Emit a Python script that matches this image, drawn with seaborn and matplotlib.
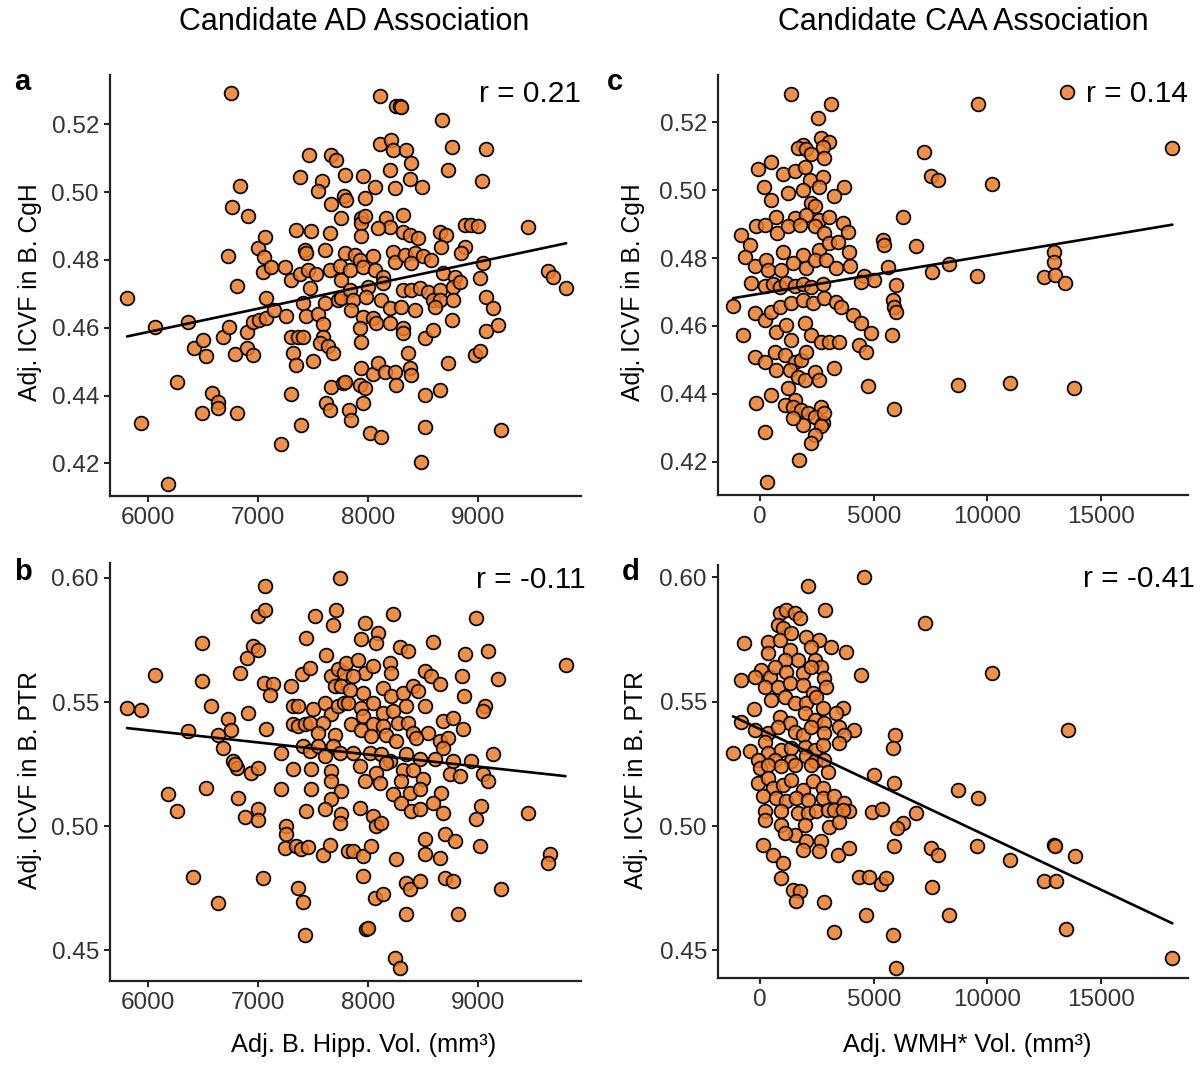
import matplotlib
matplotlib.use("Agg")
import matplotlib.pyplot as plt
import seaborn as sns
import numpy as np
import pandas as pd

# ---------------- data ----------------
# Panel a: Adj. B. Hipp. Vol. vs Adj. ICVF in B. CgH
points_a = [
    (6755,0.5291),(5810,0.4687),(6060,0.4603),(6362,0.4616),(5940,0.4318),(6187,0.4138),(6263,0.4441),
    (6423,0.4541),(6504,0.4564),(6525,0.4518),(6489,0.4350),(6580,0.4407),(6640,0.4382),(6640,0.4362),
    (6812,0.4348),(6685,0.4574),(6736,0.4603),(6790,0.4522),(6897,0.4587),(6897,0.4541),(6957,0.4520),
    (6957,0.4616),(7009,0.4623),(7078,0.4628),(7078,0.4687),(7148,0.4651),(6725,0.4812),(6806,0.4723),
    (6836,0.5018),(6767,0.4957),(6912,0.4928),(6997,0.4834),(7069,0.4867),(7057,0.4808),(7048,0.4765),
    (7124,0.4778),(7244,0.4778),(7305,0.4741),(7260,0.4635),(7299,0.4574),(7320,0.4525),(7350,0.4490),
    (7299,0.4405),(7208,0.4256),(7395,0.4313),(7501,0.4502),(7350,0.4888),(7486,0.4886),(7380,0.5044),
    (7465,0.5110),(7580,0.5033),(7546,0.5004),(7667,0.5110),(7713,0.5095),(7667,0.4965),(7794,0.5051),
    (7788,0.4989),(7758,0.4923),(7652,0.4879),(7607,0.4829),(7425,0.4829),(7440,0.4820),(7383,0.4759),
    (7455,0.4770),(7531,0.4759),(7477,0.4716),(7410,0.4672),(7440,0.4636),(7546,0.4641),(7592,0.4610),
    (7607,0.4672),(7728,0.4682),(7758,0.4687),(7652,0.4770),(7758,0.4741),(7752,0.4782),(7365,0.4574),
    (7410,0.4574),(7592,0.4574),(7562,0.4554),(7637,0.4545),(7683,0.4525),(7667,0.4426),(7773,0.4438),
    (7622,0.4377),(7661,0.4358),(7833,0.4358),(7848,0.4328),
    (8109,0.5284),(8260,0.5254),(8290,0.5254),(8306,0.5252),(8678,0.5213),(8115,0.5142),(8215,0.5154),
    (8230,0.5124),(8351,0.5124),(8396,0.5085),(8769,0.5134),(9072,0.5126),(8730,0.5065),(9042,0.5033),
    (8206,0.5065),(8381,0.5038),(8496,0.5016),(8245,0.5011),(8063,0.5016),(7957,0.5048),(7806,0.4977),
    (7972,0.4982),(8321,0.4933),(8169,0.4923),(8200,0.4898),(7942,0.4923),(7942,0.4908),(7972,0.4928),
    (8093,0.4893),(8321,0.4883),(8381,0.4874),(8457,0.4864),(7942,0.4869),(8654,0.4883),(8709,0.4874),
    (8669,0.4839),(8881,0.4903),(8942,0.4903),(9002,0.4900),(9457,0.4898),(8881,0.4839),(8851,0.4820),
    (7790,0.4820),(7881,0.4815),(7927,0.4800),(8048,0.4810),(8230,0.4822),(8245,0.4795),(8336,0.4815),
    (8427,0.4820),(8503,0.4810),(8578,0.4800),(7836,0.4770),(7957,0.4780),(8063,0.4770),(8139,0.4751),
    (8396,0.4790),(8684,0.4761),(8790,0.4751),(9048,0.4792),(9017,0.4746),(9639,0.4766),(9684,0.4751),
    (9805,0.4716),(7836,0.4711),(8003,0.4721),(8139,0.4731),(8321,0.4711),(8396,0.4711),(8472,0.4716),
    (8548,0.4706),(8654,0.4711),(8775,0.4721),(8836,0.4736),(7866,0.4682),(7987,0.4692),(8124,0.4682),
    (8593,0.4682),(8654,0.4682),(8775,0.4682),(9078,0.4692),(9139,0.4657),(7851,0.4652),(7957,0.4633),
    (8048,0.4628),(8200,0.4657),(8306,0.4662),(8427,0.4652),(8609,0.4662),(7927,0.4598),(8078,0.4613),
    (8200,0.4613),(8321,0.4598),(8321,0.4584),(8518,0.4569),(8593,0.4593),(8769,0.4623),(9078,0.4589),
    (9184,0.4608),(7942,0.4559),(8366,0.4525),(8972,0.4520),(9017,0.4530),(8730,0.4497),(7942,0.4480),
    (8048,0.4465),(8093,0.4495),(8154,0.4470),(8245,0.4470),(8381,0.4480),(8396,0.4460),(7790,0.4441),
    (7927,0.4431),(7972,0.4421),(8260,0.4431),(8518,0.4402),(8654,0.4416),(7957,0.4377),(8018,0.4289),
    (8124,0.4277),(8518,0.4306),(9215,0.4299),(8487,0.4205),
]

# Panel b: Adj. B. Hipp. Vol. vs Adj. ICVF in B. PTR
points_b = [
    (5810,0.5477),(5940,0.5466),(6060,0.5607),(6362,0.5383),(6489,0.5736),(6489,0.5584),(6574,0.5483),
    (6640,0.5369),(6731,0.5430),(6755,0.5387),(6685,0.5316),(6776,0.5262),(6806,0.5235),(6791,0.5249),
    (6912,0.5454),(6836,0.5618),(6897,0.5678),(6957,0.5725),(7003,0.5711),(6997,0.5846),(7063,0.5872),
    (7069,0.5969),(7057,0.5577),(7139,0.5571),(7109,0.5530),(7078,0.5392),(6942,0.5215),(7003,0.5235),
    (6187,0.5128),(6263,0.5061),(6528,0.5155),(6815,0.5112),(6882,0.5036),(6997,0.5070),(6997,0.5024),
    (7208,0.5151),(7260,0.5000),(7260,0.4967),(7244,0.4913),(7350,0.4920),(7395,0.4906),(7455,0.4917),
    (7592,0.4883),(7652,0.4922),(7818,0.4900),(6414,0.4796),(6634,0.4692),(7048,0.4792),(7365,0.4752),
    (7410,0.4696),(7432,0.4561),(7305,0.5564),(7320,0.5483),(7365,0.5483),(7320,0.5410),(7365,0.5403),
    (7426,0.5410),(7471,0.5416),(7401,0.5611),(7477,0.5638),(7440,0.5758),(7516,0.5848),(7713,0.5870),
    (7683,0.5812),(7752,0.6000),(7622,0.5691),(7501,0.5470),(7607,0.5497),(7667,0.5450),(7728,0.5483),
    (7788,0.5497),(7592,0.5416),(7546,0.5376),(7698,0.5369),(7667,0.5604),(7728,0.5631),(7788,0.5618),
    (7698,0.5564),(7758,0.5564),(7410,0.5322),(7471,0.5302),(7546,0.5322),(7607,0.5282),(7683,0.5322),
    (7214,0.5293),(7320,0.5232),(7486,0.5232),(7486,0.5148),(7667,0.5222),(7667,0.5181),(7758,0.5141),
    (7667,0.5108),(7607,0.5067),(7758,0.5047),(7743,0.5014),(7440,0.5061),
    (8230,0.5856),(8981,0.5839),(7972,0.5819),(8093,0.5779),(8078,0.5738),(7942,0.5752),(8593,0.5741),
    (8290,0.5722),(8366,0.5705),(8881,0.5694),(9093,0.5705),(9799,0.5651),(7806,0.5658),(7912,0.5671),
    (7972,0.5618),(8048,0.5644),(8200,0.5658),(8215,0.5618),(7866,0.5604),(8518,0.5624),(8578,0.5604),
    (8654,0.5571),(8860,0.5604),(9184,0.5591),(7836,0.5550),(7957,0.5537),(8139,0.5557),(8215,0.5524),
    (8321,0.5537),(8412,0.5564),(8457,0.5544),(8872,0.5526),(9063,0.5483),(9048,0.5463),(7821,0.5497),
    (7942,0.5477),(8048,0.5497),(8139,0.5457),(8230,0.5463),(8351,0.5483),(8518,0.5483),(7957,0.5443),
    (7851,0.5410),(7942,0.5389),(8048,0.5410),(8139,0.5403),(8275,0.5416),(8366,0.5416),(8412,0.5376),
    (8548,0.5376),(8684,0.5423),(8775,0.5436),(8866,0.5392),(8033,0.5362),(8169,0.5369),(8260,0.5342),
    (8442,0.5356),(8654,0.5342),(8730,0.5356),(8684,0.5316),(9139,0.5289),(7745,0.5296),(7866,0.5296),
    (8018,0.5296),(8124,0.5289),(8200,0.5262),(8351,0.5289),(8472,0.5269),(8609,0.5269),(8775,0.5262),
    (8942,0.5262),(7927,0.5242),(8078,0.5215),(8169,0.5255),(8321,0.5228),(8412,0.5228),(8503,0.5188),
    (8306,0.5181),(8745,0.5208),(8836,0.5201),(9048,0.5208),(9093,0.5181),(7972,0.5181),(8109,0.5175),
    (8230,0.5128),(8306,0.5094),(8381,0.5134),(8472,0.5148),(8669,0.5134),(8593,0.5094),(8684,0.5054),
    (8396,0.5061),(8472,0.5067),(9033,0.5081),(8987,0.5027),(9457,0.5054),(7927,0.5074),(8048,0.5040),
    (8078,0.5000),(8124,0.5014),(8518,0.4947),(8518,0.4886),(8699,0.4967),(8790,0.4940),(8654,0.4873),
    (9017,0.4920),(7866,0.4900),(7957,0.4879),(8033,0.4920),(8260,0.4866),(9654,0.4886),(9639,0.4853),
    (7957,0.4799),(8351,0.4772),(8381,0.4745),(8472,0.4779),(8699,0.4792),(8775,0.4779),(9215,0.4745),
    (8063,0.4712),(8139,0.4725),(8351,0.4645),(8821,0.4645),(7987,0.4584),(8003,0.4591),(8245,0.4470),
    (8290,0.4430),
]

# Panel c: Adj. WMH* Vol. vs Adj. ICVF in B. CgH
points_c = [
    (1334,0.5283),(3123,0.5253),(2536,0.5212),(2683,0.5153),(3049,0.5143),(1876,0.5133),(1657,0.5123),
    (2023,0.5120),(2756,0.5128),(2243,0.5107),(2830,0.5094),(454,0.5084),(-103,0.5063),(997,0.5048),
    (1510,0.5055),(1950,0.5069),(2170,0.5030),(2756,0.5040),(161,0.5010),(1217,0.4991),(1876,0.5001),
    (2609,0.5010),(3709,0.5008),(3269,0.4983),(484,0.4971),(2243,0.4961),(2390,0.4952),(704,0.4922),
    (1510,0.4917),(2023,0.4927),(2609,0.4912),(3049,0.4922),(-836,0.4868),(-469,0.4839),(-176,0.4893),
    (191,0.4898),(748,0.4873),(1217,0.4893),(1730,0.4898),(2390,0.4893),(2830,0.4873),(3636,0.4902),
    (3856,0.4878),(-689,0.4804),(-249,0.4775),(264,0.4794),(997,0.4819),(1876,0.4809),(2609,0.4824),
    (3049,0.4844),(3416,0.4848),(3929,0.4819),(337,0.4765),(924,0.4765),(1437,0.4785),(2023,0.4770),
    (2390,0.4794),(2903,0.4794),(3343,0.4770),(3973,0.4777),(4589,0.4747),(5028,0.4735),
    (-396,0.4725),(191,0.4718),(557,0.4722),(850,0.4715),(1143,0.4725),(1510,0.4718),(1876,0.4722),
    (2243,0.4715),(2756,0.4722),(4442,0.4730),
    (-1202,0.4659),(-249,0.4637),(191,0.4617),(484,0.4642),(850,0.4657),(1363,0.4667),(1876,0.4676),
    (2316,0.4667),(2830,0.4681),(3343,0.4671),(3563,0.4657),(4075,0.4632),(4442,0.4608),(4882,0.4578),
    (-762,0.4573),(-249,0.4509),(191,0.4495),(630,0.4524),(1070,0.4514),(1510,0.4495),(1803,0.4500),
    (2023,0.4524),(704,0.4583),(1143,0.4603),(1363,0.4559),(1950,0.4608),(2243,0.4573),(2683,0.4554),
    (3049,0.4554),(3489,0.4554),(4369,0.4544),(4662,0.4524),(704,0.4470),(1290,0.4470),(1657,0.4450),
    (1950,0.4441),(2390,0.4465),(2609,0.4441),(3240,0.4475),(4764,0.4422),(1217,0.4417),(1510,0.4382),
    (1070,0.4367),(-176,0.4372),(484,0.4397),(1437,0.4362),(1803,0.4353),(2096,0.4343),(2683,0.4362),
    (2390,0.4333),(2756,0.4314),(2830,0.4343),(2683,0.4304),(2390,0.4279),(2243,0.4256),(1876,0.4308),
    (1437,0.4328),(191,0.4287),(1700,0.4206),(308,0.4140),
    (13509,0.5290),(9605,0.5253),(18158,0.5123),(7222,0.5111),(7515,0.5042),(7836,0.5030),(10219,0.5018),
    (6272,0.4922),(5395,0.4853),(5468,0.4839),(6857,0.4836),(5614,0.4773),(7558,0.4760),(8319,0.4782),
    (9561,0.4747),(12924,0.4819),(12924,0.4787),(12485,0.4743),(12997,0.4750),(13436,0.4726),(5980,0.4721),
    (5833,0.4677),(5907,0.4657),(5980,0.4642),(5790,0.4573),(8728,0.4426),(10994,0.4433),(13830,0.4418),
    (5877,0.4355),
]

# Panel d: Adj. WMH* Vol. vs Adj. ICVF in B. PTR
points_d = [
    (4559,0.6000),(2096,0.5965),(2859,0.5869),(850,0.5855),(1143,0.5871),(1510,0.5855),(1730,0.5835),
    (777,0.5808),(997,0.5795),(-718,0.5735),(337,0.5742),(850,0.5748),(1363,0.5775),(2023,0.5762),
    (2609,0.5748),(2243,0.5721),(3123,0.5719),(3783,0.5701),(337,0.5695),(1290,0.5708),(1657,0.5668),
    (1070,0.5668),(2390,0.5668),(2683,0.5641),(44,0.5628),(-249,0.5601),(411,0.5601),(630,0.5641),
    (1143,0.5621),(1876,0.5614),(2243,0.5641),(2830,0.5594),(-836,0.5588),(4442,0.5608),(191,0.5561),
    (777,0.5561),(1290,0.5574),(1876,0.5567),(2316,0.5534),(2903,0.5561),(484,0.5507),(1070,0.5521),
    (1510,0.5494),(2023,0.5494),(2463,0.5521),(2756,0.5474),(3636,0.5474),(-279,0.5470),(-836,0.5420),
    (850,0.5440),(1290,0.5413),(1950,0.5454),(2390,0.5427),(2830,0.5413),(3343,0.5454),(4149,0.5387),
    (-249,0.5387),(337,0.5373),(777,0.5400),(1510,0.5380),(1876,0.5367),(2243,0.5400),(2830,0.5373),
    (3489,0.5400),(3709,0.5367),(-1202,0.5293),(-469,0.5300),(191,0.5340),(337,0.5293),(924,0.5306),
    (1363,0.5313),(1950,0.5320),(2390,0.5306),(2756,0.5326),(3489,0.5333),(-103,0.5266),(630,0.5266),
    (1363,0.5260),(2023,0.5280),(2390,0.5260),(2830,0.5266),
    (-29,0.5233),(337,0.5246),(924,0.5240),(1510,0.5246),(2243,0.5246),(2976,0.5219),(5028,0.5206),
    (-103,0.5172),(337,0.5193),(557,0.5153),(997,0.5166),(1363,0.5186),(1876,0.5146),(2316,0.5180),
    (2756,0.5153),(117,0.5119),(704,0.5113),(1143,0.5099),(1583,0.5113),(2096,0.5106),(2756,0.5113),
    (3269,0.5119),(3709,0.5092),(3929,0.5059),(191,0.5059),(191,0.5025),(924,0.5059),(1657,0.5052),
    (2096,0.5052),(2463,0.5059),(2976,0.5066),(3269,0.5066),(3636,0.5066),(924,0.5005),(1510,0.4965),
    (1950,0.5005),(1070,0.4972),(2023,0.4938),(3049,0.4998),(3489,0.5018),(4911,0.5055),(5365,0.5069),
    (117,0.4925),(557,0.4885),(997,0.4851),(924,0.4791),(1437,0.4744),(1730,0.4737),(1583,0.4697),
    (1876,0.4905),(2683,0.4941),(2609,0.4898),(3416,0.4882),(3929,0.4911),(4369,0.4797),(4809,0.4797),
    (5321,0.4767),(5541,0.4791),(2800,0.4694),(4662,0.4641),(3269,0.4575),
    (7266,0.5815),(10219,0.5614),(13538,0.5387),(5936,0.5367),(5833,0.5313),(5906,0.5173),(8728,0.5146),
    (9591,0.5112),(6857,0.5052),(6272,0.5012),(6024,0.4992),(5906,0.4921),(7515,0.4911),(7836,0.4885),
    (9561,0.4921),(10994,0.4865),(12924,0.4925),(12997,0.4918),(13845,0.4878),(7588,0.4755),(12485,0.4778),
    (13026,0.4778),(8319,0.4644),(5863,0.4563),(13465,0.4586),(5980,0.4429),(18158,0.4470),
]

r_labels = ["r = 0.21", "r = -0.11", "r = 0.14", "r = -0.41"]
panel_letters = ["a", "b", "c", "d"]
column_titles = ["Candidate AD Association", "Candidate CAA Association"]
y_labels = ["Adj. ICVF in B. CgH", "Adj. ICVF in B. PTR"]
x_labels = ["Adj. B. Hipp. Vol. (mm³)", "Adj. WMH* Vol. (mm³)"]
hipp_ticks = [6000, 7000, 8000, 9000]
wmh_ticks = [0, 5000, 10000, 15000]
cgh_ticks = [0.42, 0.44, 0.46, 0.48, 0.50, 0.52]
ptr_ticks = [0.45, 0.50, 0.55, 0.60]

# ---------------- style ----------------
sns.set_style("ticks")
plt.rcParams["font.family"] = ["Liberation Sans", "DejaVu Sans"]
plt.rcParams["text.color"] = "black"

W, H = 1204, 1074
fig = plt.figure(figsize=(W / 100, H / 100), dpi=100)

def fx(px):
    return px / W

def fy(py):
    return 1 - py / H

face = (0.925, 0.49, 0.16, 0.85)
axis_col = "#222222"
tick_col = "#333333"

panels = [
    dict(pts=points_a, box=(110, 75, 581, 496), xlim=(5655, 9940), ylim=(0.4104, 0.5345),
         xt=hipp_ticks, yt=cgh_ticks, r=r_labels[0], rx=1.0, ry=0.955),
    dict(pts=points_b, box=(110, 563, 581, 981), xlim=(5655, 9940), ylim=(0.4376, 0.6060),
         xt=hipp_ticks, yt=ptr_ticks, r=r_labels[1], rx=1.01, ry=0.96),
    dict(pts=points_c, box=(718, 75, 1188, 495), xlim=(-1862, 18845), ylim=(0.4102, 0.5339),
         xt=wmh_ticks, yt=cgh_ticks, r=r_labels[2], rx=1.0, ry=0.955),
    dict(pts=points_d, box=(718, 565, 1188, 978), xlim=(-1862, 18845), ylim=(0.4389, 0.6050),
         xt=wmh_ticks, yt=ptr_ticks, r=r_labels[3], rx=1.015, ry=0.965),
]

for p in panels:
    l, t, r, b = p["box"]
    ax = fig.add_axes([fx(l), fy(b), (r - l) / W, (b - t) / H])
    df = pd.DataFrame(p["pts"], columns=["x", "y"])
    sns.scatterplot(data=df, x="x", y="y", ax=ax, s=98, linewidth=1.25, legend=False, zorder=3)
    coll = ax.collections[-1]
    coll.set_facecolor(face)
    coll.set_edgecolor("black")
    sns.regplot(data=df, x="x", y="y", ax=ax, scatter=False, ci=None, truncate=True,
                color="black", line_kws=dict(lw=1.9, zorder=5))
    ax.set_xlim(*p["xlim"])
    ax.set_ylim(*p["ylim"])
    ax.set_xticks(p["xt"])
    ax.set_xticklabels([str(v) for v in p["xt"]])
    ax.set_yticks(p["yt"])
    ax.set_yticklabels(["%.2f" % v for v in p["yt"]])
    ax.set_xlabel("")
    ax.set_ylabel("")
    sns.despine(ax=ax)
    for s in ["left", "bottom"]:
        ax.spines[s].set_linewidth(1.6)
        ax.spines[s].set_color(axis_col)
    ax.tick_params(axis="both", length=4, width=1.4, color=axis_col,
                   labelsize=17.5, labelcolor=tick_col, pad=4)
    ax.text(p["rx"], p["ry"], p["r"], transform=ax.transAxes, ha="right", va="center",
            fontsize=21.5, color="black")

# column titles
fig.text(fx(354), fy(22), column_titles[0], ha="center", va="center", fontsize=22, color="black")
fig.text(fx(963), fy(22), column_titles[1], ha="center", va="center", fontsize=22, color="black")

# x labels
fig.text(fx(364), fy(1045), x_labels[0], ha="center", va="center", fontsize=18.3, color="black")
fig.text(fx(967), fy(1045), x_labels[1], ha="center", va="center", fontsize=18.3, color="black")

# panel letters
for letter, (px, py) in zip(panel_letters, [(14, 82), (14, 572), (607, 82), (622, 572)]):
    fig.text(fx(px), fy(py), letter, ha="left", va="center", fontsize=21, fontweight="bold",
             color="black")

# y labels
for lab, (px, py) in zip([y_labels[0], y_labels[1], y_labels[0], y_labels[1]],
                         [(30, 292), (30, 780), (633, 292), (636, 780)]):
    fig.text(fx(px), fy(py), lab, ha="center", va="center", rotation=90, fontsize=17.8,
             color="black")

fig.savefig("out.png", dpi=100)
